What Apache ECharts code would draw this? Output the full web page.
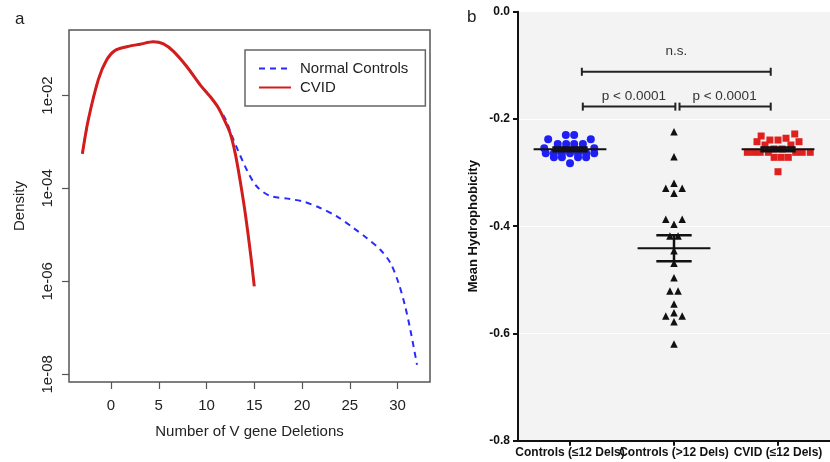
<!DOCTYPE html>
<html>
<head>
<meta charset="utf-8">
<script src="https://cdn.jsdelivr.net/npm/echarts@6.0.0/dist/echarts.min.js"></script>
<style>
  html, body { margin: 0; padding: 0; background: #fff; }
  #chart { width: 830px; height: 462px; }
</style>
</head>
<body>
<div id="chart"></div>
<script>
// panel a: density curves (x = number of V gene deletions)
const cvidX = [-3, -2.38, -1.33, -0.45, 0.42, 1.64, 3.04, 4.44, 5.49, 6.54, 7.93, 9.33, 10.38, 11.25, 11.95, 12.47, 13.0, 13.5, 14.05, 14.64, 15];
const cvidDensity = [5.6e-4, 3.0e-3, 2.2e-2, 5.9e-2, 9.3e-2, 0.112, 0.127, 0.143, 0.129, 0.089, 0.042, 0.017, 9.5e-3, 5.4e-3, 2.75e-3, 1.55e-3, 5.75e-4, 1.55e-4, 2.95e-5, 3.5e-6, 7.8e-7];
const controlX = [-3, -2.38, -1.33, -0.45, 0.42, 1.64, 3.04, 4.44, 5.49, 6.54, 7.93, 9.33, 10.38, 11.25, 11.95, 12.82, 14.22, 15.27, 16.67, 18.76, 20.16, 21.9, 23.65, 25.4, 26.8, 28.2, 29.25, 30.1, 30.8, 31.34, 32.04];
const controlDensity = [5.6e-4, 3.0e-3, 2.2e-2, 5.9e-2, 9.3e-2, 0.112, 0.127, 0.143, 0.129, 0.089, 0.042, 0.017, 9.5e-3, 5.4e-3, 3.2e-3, 1.12e-3, 2.5e-4, 1.1e-4, 6.9e-5, 5.9e-5, 5.2e-5, 3.8e-5, 2.5e-5, 1.4e-5, 8.5e-6, 4.8e-6, 2.5e-6, 9.3e-7, 2.9e-7, 9.1e-8, 1.6e-8];
const deletionTicks = [0, 5, 10, 15, 20, 25, 30];
const densityTicks = [1e-8, 1e-6, 1e-4, 1e-2];

// panel b: mean hydrophobicity per clone group
const groupNames = ['Controls (\u226412 Dels)', 'Controls (>12 Dels)', 'CVID (\u226412 Dels)'];
const ctrlLowValues = [-0.230, -0.230, -0.238, -0.238, -0.2467, -0.2467, -0.2467, -0.2467,
  -0.2547, -0.2547, -0.2547, -0.2547, -0.2547, -0.2547,
  -0.264, -0.264, -0.264, -0.264, -0.264, -0.264, -0.264,
  -0.2715, -0.2715, -0.2715, -0.2715, -0.2827];
const ctrlLowJitter = [-0.04, 0.04, -0.21, 0.2, -0.118, -0.037, 0.04, 0.124,
  -0.248, 0.233, -0.12, -0.04, 0.04, 0.12,
  -0.233, -0.155, -0.078, 0, 0.077, 0.155, 0.233,
  -0.155, -0.078, 0.077, 0.155, 0];
const ctrlHighValues = [-0.2238, -0.2704, -0.32, -0.3294, -0.3294, -0.3387, -0.3872, -0.3872, -0.3965,
  -0.4183, -0.4183, -0.4457, -0.4692, -0.496, -0.5208, -0.5208, -0.5451, -0.5613,
  -0.5675, -0.5675, -0.5781, -0.6197];
const ctrlHighJitter = [0, 0, 0, -0.079, 0.079, 0, -0.079, 0.079, 0,
  -0.039, 0.039, 0, 0, 0, -0.039, 0.039, 0, 0,
  -0.079, 0.079, 0, 0];
const cvidValues = [-0.228, -0.2318, -0.236, -0.2393, -0.2393, -0.2424, -0.2424, -0.2486, -0.2486,
  -0.256, -0.256, -0.2622, -0.2622, -0.2622, -0.2622, -0.2622, -0.2622, -0.2622,
  -0.2716, -0.2716, -0.2716, -0.2984];
const cvidJitter = [0.161, -0.162, 0.077, -0.078, 0, -0.202, 0.202, -0.125, 0.124,
  -0.04, 0.04, -0.295, -0.233, -0.171, -0.093, 0.17, 0.233, 0.31,
  -0.037, 0.031, 0.099, 0];
const groupMeans = [-0.2566, -0.4412, -0.2566];
const groupSems = [0.0035, 0.0243, 0.0035];
const bracketStart = [0.614, 0.623, 1.553];
const bracketEnd = [2.43, 1.513, 2.43];
const bracketLevel = [-0.112, -0.177, -0.177];
const bracketText = ['n.s.', 'p < 0.0001', 'p < 0.0001'];
const bracketTextX = [1.523, 1.114, 1.986];
const bracketTextY = [-0.0746, -0.157, -0.157];

const FONT = '"Liberation Sans", Arial, Helvetica, sans-serif';
const chart = echarts.init(document.getElementById('chart'));

const pairs = (xs, ys) => xs.map((x, i) => [x, Math.log10(ys[i])]);
const swarm = (vals, jit, g) => vals.map((v, i) => [g + 0.5 + jit[i], v]);

chart.setOption({
  animation: false,
  backgroundColor: '#fff',
  textStyle: { fontFamily: FONT },
  grid: [
    { left: 69, top: 30, width: 361, height: 352, show: true, borderColor: '#555', borderWidth: 1.5, backgroundColor: 'transparent' },
    { left: 518, top: 11.7, width: 322.5, height: 429, show: true, borderWidth: 0, backgroundColor: '#f3f3f3' }
  ],
  xAxis: [
    {
      type: 'value', gridIndex: 0, min: -4.4, max: 33.4,
      name: 'Number of V gene Deletions', nameLocation: 'middle', nameGap: 42,
      nameTextStyle: { fontSize: 15, color: '#222', fontFamily: FONT },
      axisLine: { show: false, onZero: false },
      axisTick: { show: true, length: 7, customValues: deletionTicks, lineStyle: { color: '#555', width: 1.2 } },
      axisLabel: { customValues: deletionTicks, fontSize: 15, color: '#222', margin: 16, fontFamily: FONT },
      splitLine: { show: false }
    },
    {
      type: 'category', gridIndex: 1, data: groupNames, boundaryGap: true,
      axisLine: { show: true, onZero: false, lineStyle: { color: '#111', width: 2 } },
      axisTick: { show: true, alignWithLabel: true, length: 5, lineStyle: { color: '#111', width: 2 } },
      axisLabel: { interval: 0, fontSize: 12, fontWeight: 'bold', color: '#111', margin: 6, fontFamily: FONT },
      splitLine: { show: false }
    },
    {
      type: 'value', gridIndex: 1, min: 0, max: 3, show: false
    }
  ],
  yAxis: [
    {
      type: 'value', gridIndex: 0, min: -8.166, max: -0.59,
      name: 'Density', nameLocation: 'middle', nameGap: 42, nameRotate: 90,
      nameTextStyle: { fontSize: 15, color: '#222', fontFamily: FONT },
      axisLine: { show: false, onZero: false },
      axisTick: { show: true, length: 7, customValues: densityTicks.map(Math.log10), lineStyle: { color: '#555', width: 1.2 } },
      axisLabel: {
        customValues: densityTicks.map(Math.log10), rotate: 90, fontSize: 15, color: '#222', margin: 14, fontFamily: FONT,
        formatter: v => '1e-' + String(Math.round(-v)).padStart(2, '0')
      },
      splitLine: { show: false }
    },
    {
      type: 'value', gridIndex: 1, min: -0.8, max: 0, interval: 0.2,
      name: 'Mean Hydrophobicity', nameLocation: 'middle', nameGap: 38, nameRotate: 90,
      nameTextStyle: { fontSize: 13, fontWeight: 'bold', color: '#111', fontFamily: FONT },
      axisLine: { show: true, onZero: false, lineStyle: { color: '#111', width: 2 } },
      axisTick: { show: true, length: 5, lineStyle: { color: '#111', width: 2 } },
      axisLabel: { fontSize: 12, fontWeight: 'bold', color: '#111', margin: 8, fontFamily: FONT, formatter: v => v.toFixed(1) },
      splitLine: { show: true, lineStyle: { color: '#ffffff', width: 1.2 } }
    }
  ],
  legend: {
    data: ['Normal Controls', 'CVID'],
    left: 245, top: 50, orient: 'vertical',
    borderColor: '#666', borderWidth: 1.5, borderRadius: 0,
    padding: [11, 17, 11, 13],
    itemWidth: 32, itemHeight: 14, itemGap: 4,
    itemStyle: { opacity: 0 },
    textStyle: { fontSize: 15, color: '#222', fontFamily: FONT, padding: [0, 0, 0, 4] }
  },
  graphic: [
    { type: 'text', left: 15, top: 11, style: { text: 'a', fontSize: 17, fill: '#222', fontFamily: FONT } },
    { type: 'text', left: 467, top: 9, style: { text: 'b', fontSize: 17, fill: '#222', fontFamily: FONT } }
  ],
  series: [
    {
      name: 'Normal Controls', type: 'line', xAxisIndex: 0, yAxisIndex: 0,
      data: pairs(controlX, controlDensity), smooth: 0.3, symbol: 'none',
      lineStyle: { color: '#2a2aff', width: 2, type: [6, 5] }, itemStyle: { color: '#2a2aff' }, z: 2
    },
    {
      name: 'CVID', type: 'line', xAxisIndex: 0, yAxisIndex: 0,
      data: pairs(cvidX, cvidDensity), smooth: 0.3, symbol: 'none',
      lineStyle: { color: '#d21d1d', width: 3 }, itemStyle: { color: '#d21d1d' }, z: 3
    },
    {
      type: 'scatter', xAxisIndex: 2, yAxisIndex: 1, symbol: 'circle', symbolSize: 8,
      data: swarm(ctrlLowValues, ctrlLowJitter, 0), itemStyle: { color: '#1f1ff5', opacity: 1 }, z: 2
    },
    {
      type: 'scatter', xAxisIndex: 2, yAxisIndex: 1, symbol: 'triangle', symbolSize: 7.5,
      data: swarm(ctrlHighValues, ctrlHighJitter, 1), itemStyle: { color: '#111', opacity: 1 }, z: 2
    },
    {
      type: 'scatter', xAxisIndex: 2, yAxisIndex: 1, symbol: 'rect', symbolSize: 7,
      data: swarm(cvidValues, cvidJitter, 2), itemStyle: { color: '#e01f1f', opacity: 1 }, z: 2
    },
    {
      // mean line with SEM error bar for each group
      type: 'custom', xAxisIndex: 2, yAxisIndex: 1, z: 5,
      data: groupMeans.map((m, i) => [i, m, groupSems[i]]),
      renderItem: (params, api) => {
        const g = api.value(0), m = api.value(1), s = api.value(2);
        const c = api.coord([g + 0.5, m]);
        const hi = api.coord([g + 0.5, m + s]);
        const lo = api.coord([g + 0.5, m - s]);
        const unit = api.size([1, 0])[0];
        const meanHalf = 0.35 * unit, capHalf = 0.17 * unit;
        const seg = (x1, y1, x2, y2, w) => ({
          type: 'line', shape: { x1, y1, x2, y2 }, style: { stroke: '#111', lineWidth: w }
        });
        return {
          type: 'group',
          children: [
            seg(c[0] - meanHalf, c[1], c[0] + meanHalf, c[1], 2),
            seg(hi[0], hi[1], lo[0], lo[1], 2.5),
            seg(hi[0] - capHalf, hi[1], hi[0] + capHalf, hi[1], 2.5),
            seg(lo[0] - capHalf, lo[1], lo[0] + capHalf, lo[1], 2.5)
          ]
        };
      }
    },
    {
      // significance brackets
      type: 'custom', xAxisIndex: 2, yAxisIndex: 1, z: 5, clip: false,
      data: bracketStart.map((x, i) => [x, bracketEnd[i], bracketLevel[i], bracketTextX[i], bracketTextY[i], i]),
      renderItem: (params, api) => {
        const a = api.coord([api.value(0), api.value(2)]);
        const b = api.coord([api.value(1), api.value(2)]);
        const t = api.coord([api.value(3), api.value(4)]);
        const k = api.value(5);
        const seg = (x1, y1, x2, y2) => ({
          type: 'line', shape: { x1, y1, x2, y2 }, style: { stroke: '#222', lineWidth: 2 }
        });
        return {
          type: 'group',
          children: [
            seg(a[0], a[1], b[0], b[1]),
            seg(a[0], a[1] - 4, a[0], a[1] + 4),
            seg(b[0], b[1] - 4, b[0], b[1] + 4),
            {
              type: 'text', x: t[0], y: t[1],
              style: { text: bracketText[k], fontSize: 13.5, fill: '#333', align: 'center', verticalAlign: 'middle', fontFamily: FONT }
            }
          ]
        };
      }
    }
  ]
});
</script>
</body>
</html>
